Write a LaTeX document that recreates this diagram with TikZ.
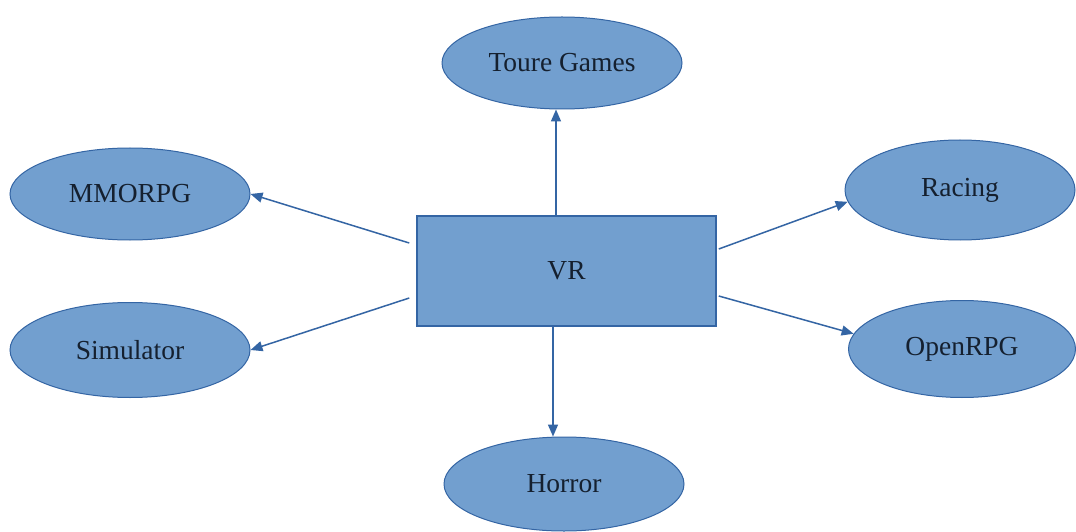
\documentclass[tikz,border=0pt]{standalone}
\usepackage{fontspec}
\setmainfont{Liberation Serif}
\usetikzlibrary{shapes.geometric,arrows.meta,calc}
\definecolor{fillblue}{HTML}{729FCF}
\definecolor{lineblue}{HTML}{3465A4}
\definecolor{txt}{HTML}{15202F}
\begin{document}
\begin{tikzpicture}[x=1pt,y=1pt,
  oval/.style={ellipse,draw=lineblue,line width=1pt,fill=fillblue,inner sep=0pt,
    text=txt,font=\fontsize{27.5}{32}\selectfont},
  box/.style={rectangle,draw=lineblue,line width=1.5pt,fill=fillblue,inner sep=0pt,
    text=txt,font=\fontsize{27.5}{32}\selectfont},
  conn/.style={draw=lineblue,line width=1.5pt,-{Triangle[length=12pt,width=10pt]}}]
\useasboundingbox (0,0) rectangle (1076,531);
\fill[white] (0,0) rectangle (1076,531);
\node[box,minimum width=299pt,minimum height=110pt] (vr) at (566.5,260) {VR};
\node[oval,minimum width=240pt,minimum height=92pt] (toure) at (562,468) {Toure Games};
\node[oval,minimum width=240pt,minimum height=92pt] (mmo) at (130,337) {MMORPG};
\node[oval,minimum width=240pt,minimum height=95pt] (sim) at (130,181) {Simulator};
\node[oval,minimum width=230pt,minimum height=100pt] (racing) at (960,341) {Racing};
\node[oval,minimum width=227pt,minimum height=97pt] (open) at (962,182) {OpenRPG};
\node[oval,minimum width=240pt,minimum height=94pt] (horror) at (564,47) {Horror};
\coordinate (sUp) at ($(vr.north)+(-10.5,0)$);
\coordinate (eUp) at (sUp |- toure.south);
\coordinate (sDown) at ($(vr.south)+(-13.5,-0)$);
\coordinate (eDown) at (sDown |- horror.north);
\coordinate (sMmo) at ($(vr.west)+(-7,28)$);
\coordinate (sSim) at ($(vr.west)+(-7,-27)$);
\coordinate (sRac) at ($(vr.east)+(2,22)$);
\coordinate (sOpen) at ($(vr.east)+(2,-25)$);
\draw[conn] (sUp) -- (eUp);
\draw[conn] (sDown) -- (eDown);
\draw[conn] (sMmo) -- (mmo.east);
\draw[conn] (sSim) -- (sim.east);
\draw[conn] (sRac) -- (racing.186);
\draw[conn] (sOpen) -- (open.172);
\end{tikzpicture}
\end{document}
